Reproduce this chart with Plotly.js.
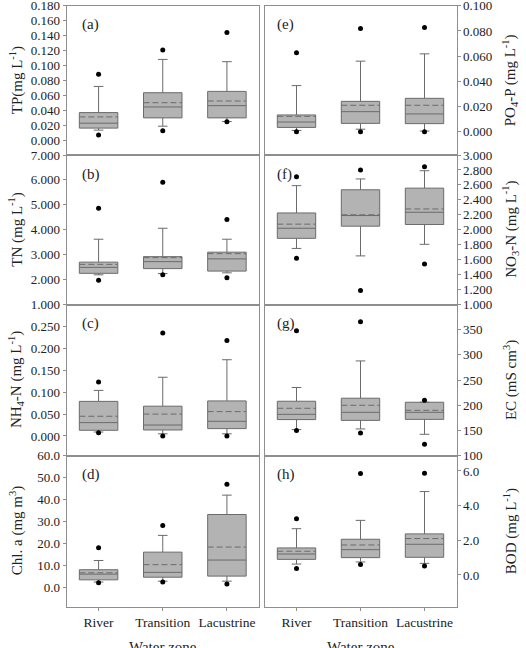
<!DOCTYPE html>
<html>
<head>
<meta charset="utf-8">
<script src="https://cdn.plot.ly/plotly-3.0.1.min.js"></script>
<style>html,body{margin:0;padding:0;background:#fff;}#chart{width:526px;height:648px;}</style>
</head>
<body>
<div id="chart"></div>
<script>
// ---------- DATA ----------
const zones = ['River', 'Transition', 'Lacustrine'];

// (a) TP
const TP_q1 = [0.016, 0.0297, 0.0297];
const TP_median = [0.0226, 0.0443, 0.0461];
const TP_q3 = [0.0368, 0.0634, 0.0652];
const TP_low = [0.0133, 0.0186, 0.0248];
const TP_high = [0.0718, 0.108, 0.105];
const TP_mean = [0.031, 0.050, 0.0523];
const TP_outHigh = [0.0882, 0.1206, 0.144];
const TP_outLow = [0.0067, 0.0124, 0.0244];
const TP_ticks = [0, 0.02, 0.04, 0.06, 0.08, 0.10, 0.12, 0.14, 0.16, 0.18];

// (b) TN
const TN_q1 = [2.25, 2.44, 2.34];
const TN_median = [2.49, 2.72, 2.83];
const TN_q3 = [2.70, 2.92, 3.10];
const TN_low = [2.19, 2.24, 2.27];
const TN_high = [3.62, 4.06, 3.62];
const TN_mean = [2.61, 2.88, 3.04];
const TN_outHigh = [4.86, 5.91, 4.41];
const TN_outLow = [1.97, 2.19, 2.07];
const TN_ticks = [1, 2, 3, 4, 5, 6, 7];

// (c) NH4-N
const NH4_q1 = [0.013, 0.0137, 0.0168];
const NH4_median = [0.0305, 0.025, 0.0335];
const NH4_q3 = [0.079, 0.068, 0.080];
const NH4_low = [0.009, 0.005, 0.005];
const NH4_high = [0.104, 0.134, 0.174];
const NH4_mean = [0.045, 0.050, 0.0556];
const NH4_outHigh = [0.123, 0.235, 0.218];
const NH4_outLow = [0.0076, 0.0, 0.0];
const NH4_ticks = [0, 0.05, 0.10, 0.15, 0.20, 0.25];

// (d) Chl. a
const CHL_q1 = [3.6, 4.8, 5.3];
const CHL_median = [6.2, 7.0, 12.6];
const CHL_q3 = [8.2, 16.2, 33.3];
const CHL_low = [2.6, 3.0, 3.0];
const CHL_high = [12.4, 23.8, 42.1];
const CHL_mean = [6.8, 10.5, 18.5];
const CHL_outHigh = [18.2, 28.3, 47.0];
const CHL_outLow = [2.3, 2.6, 1.7];
const CHL_ticks = [0, 10, 20, 30, 40, 50, 60];

// (e) PO4-P
const PO4_q1 = [0.0034, 0.0066, 0.0064];
const PO4_median = [0.0077, 0.0159, 0.0141];
const PO4_q3 = [0.0133, 0.0241, 0.0265];
const PO4_low = [0.001, 0.002, 0.0005];
const PO4_high = [0.0366, 0.056, 0.0618];
const PO4_mean = [0.0122, 0.021, 0.021];
const PO4_outHigh = [0.0626, 0.082, 0.0828];
const PO4_outLow = [0.0, 0.0, 0.0];
const PO4_ticks = [0, 0.02, 0.04, 0.06, 0.08, 0.10];

// (f) NO3-N
const NO3_q1 = [1.885, 2.048, 2.07];
const NO3_median = [2.02, 2.19, 2.234];
const NO3_q3 = [2.225, 2.535, 2.557];
const NO3_low = [1.75, 1.65, 1.805];
const NO3_high = [2.59, 2.68, 2.79];
const NO3_mean = [2.075, 2.20, 2.278];
const NO3_outHigh = [2.71, 2.80, 2.844];
const NO3_outLow = [1.62, 1.186, 1.54];
const NO3_ticks = [1.0, 1.2, 1.4, 1.6, 1.8, 2.0, 2.2, 2.4, 2.6, 2.8, 3.0];

// (g) EC
const EC_q1 = [171.6, 170, 172];
const EC_median = [182, 186, 186];
const EC_q3 = [208, 214, 206];
const EC_low = [151.7, 153, 142.4];
const EC_high = [235.3, 288, 206];
const EC_mean = [194, 200, 190];
const EC_outHigh = [348, 366, 210];
const EC_outLow = [149.7, 145, 122.5];
const EC_ticks = [100, 150, 200, 250, 300, 350];

// (h) BOD
const BOD_q1 = [0.90, 1.00, 1.02];
const BOD_median = [1.21, 1.46, 1.77];
const BOD_q3 = [1.56, 2.06, 2.37];
const BOD_low = [0.63, 0.75, 0.67];
const BOD_high = [2.67, 3.15, 4.81];
const BOD_mean = [1.37, 1.73, 2.10];
const BOD_outHigh = [3.25, 5.85, 5.87];
const BOD_outLow = [0.37, 0.60, 0.52];
const BOD_ticks = [0, 2, 4, 6];

// ---------- LAYOUT HELPERS ----------
const W = 526, H = 648;
const colPx = [[66.5, 259], [264.5, 456.5]];
const rowPx = [[5.5, 155], [155, 304.5], [304.5, 455.7], [455.7, 606.7]];
const px2x = p => p / W;
const px2y = p => 1 - p / H;

const panels = [
  {lab:'(a)', col:0, row:0, q1:TP_q1, med:TP_median, q3:TP_q3, lo:TP_low, hi:TP_high, mean:TP_mean, oh:TP_outHigh, ol:TP_outLow, ticks:TP_ticks, fmt:'.3f', range:[-0.02, 0.1802], title:'TP(mg L<sup>-1</sup>)'},
  {lab:'(b)', col:0, row:1, q1:TN_q1, med:TN_median, q3:TN_q3, lo:TN_low, hi:TN_high, mean:TN_mean, oh:TN_outHigh, ol:TN_outLow, ticks:TN_ticks, fmt:'.3f', range:[0.999, 7.001], title:'TN (mg L<sup>-1</sup>)'},
  {lab:'(c)', col:0, row:2, q1:NH4_q1, med:NH4_median, q3:NH4_q3, lo:NH4_low, hi:NH4_high, mean:NH4_mean, oh:NH4_outHigh, ol:NH4_outLow, ticks:NH4_ticks, fmt:'.3f', range:[-0.045, 0.30], title:'NH<sub>4</sub>-N (mg L<sup>-1</sup>)'},
  {lab:'(d)', col:0, row:3, q1:CHL_q1, med:CHL_median, q3:CHL_q3, lo:CHL_low, hi:CHL_high, mean:CHL_mean, oh:CHL_outHigh, ol:CHL_outLow, ticks:CHL_ticks, fmt:'.1f', range:[-8.6, 60.02], title:'Chl. a (mg m<sup>3</sup>)'},
  {lab:'(e)', col:1, row:0, q1:PO4_q1, med:PO4_median, q3:PO4_q3, lo:PO4_low, hi:PO4_high, mean:PO4_mean, oh:PO4_outHigh, ol:PO4_outLow, ticks:PO4_ticks, fmt:'.3f', range:[-0.0185, 0.1002], title:'PO<sub>4</sub>-P (mg L<sup>-1</sup>)'},
  {lab:'(f)', col:1, row:1, q1:NO3_q1, med:NO3_median, q3:NO3_q3, lo:NO3_low, hi:NO3_high, mean:NO3_mean, oh:NO3_outHigh, ol:NO3_outLow, ticks:NO3_ticks, fmt:'.3f', range:[0.9995, 3.0005], title:'NO<sub>3</sub>-N (mg L<sup>-1</sup>)'},
  {lab:'(g)', col:1, row:2, q1:EC_q1, med:EC_median, q3:EC_q3, lo:EC_low, hi:EC_high, mean:EC_mean, oh:EC_outHigh, ol:EC_outLow, ticks:EC_ticks, fmt:'d', range:[99.9, 400], title:'EC (mS cm<sup>3</sup>)'},
  {lab:'(h)', col:1, row:3, q1:BOD_q1, med:BOD_median, q3:BOD_q3, lo:BOD_low, hi:BOD_high, mean:BOD_mean, oh:BOD_outHigh, ol:BOD_outLow, ticks:BOD_ticks, fmt:'.1f', range:[-1.83, 6.88], title:'BOD (mg L<sup>-1</sup>)'}
];

const FONT = '"Liberation Serif", serif';
const frameColor = '#8e8e8e';
const boxLine = '#6b6b6b';
const boxFill = '#b3b3b3';

const data = [];
const layout = {
  width: W, height: H,
  margin: {l:0, r:0, t:0, b:0},
  paper_bgcolor: '#fff', plot_bgcolor: '#fff',
  showlegend: false,
  font: {family: FONT, size: 13, color: '#222'},
  annotations: []
};

panels.forEach((p, i) => {
  const n = i + 1;
  const xa = 'x' + (n === 1 ? '' : n);
  const ya = 'y' + (n === 1 ? '' : n);
  data.push({
    type: 'box', xaxis: xa, yaxis: ya, x: zones,
    q1: p.q1, median: p.med, q3: p.q3, lowerfence: p.lo, upperfence: p.hi, mean: p.mean,
    boxmean: true, boxpoints: false, width: 0.6, whiskerwidth: 0.25,
    fillcolor: boxFill, line: {color: boxLine, width: 1}, hoverinfo: 'skip'
  });
  data.push({
    type: 'scatter', mode: 'markers', xaxis: xa, yaxis: ya,
    x: zones.concat(zones), y: p.oh.concat(p.ol),
    marker: {color: '#000', size: 5}, hoverinfo: 'skip', cliponaxis: false
  });
  const c = colPx[p.col], r = rowPx[p.row];
  layout['xaxis' + (n === 1 ? '' : n)] = {
    domain: [px2x(c[0]), px2x(c[1])], anchor: ya, type: 'category',
    categoryorder: 'array', categoryarray: zones, range: [-0.5, 2.5],
    showline: true, mirror: true, linecolor: frameColor, linewidth: 1,
    showgrid: false, zeroline: false,
    ticks: p.row === 3 ? 'outside' : '', ticklen: 3, tickcolor: frameColor,
    showticklabels: p.row === 3, tickfont: {family: FONT, size: 13.5, color: '#222'}
  };
  layout['yaxis' + (n === 1 ? '' : n)] = {
    domain: [px2y(r[1]), px2y(r[0])], anchor: xa, range: p.range,
    side: p.col === 0 ? 'left' : 'right',
    tickmode: 'array', tickvals: p.ticks, tickformat: p.fmt,
    showline: true, mirror: true, linecolor: frameColor, linewidth: 1,
    showgrid: false, zeroline: false, ticklabeloverflow: 'allow',
    ticks: 'outside', ticklen: 3, tickcolor: frameColor,
    tickfont: {family: FONT, size: 13, color: '#222'}
  };
  // panel label
  layout.annotations.push({
    xref: 'paper', yref: 'paper', x: px2x(c[0] + (p.col === 0 ? 13 : 10)), y: px2y(r[0] + 19),
    xanchor: 'left', yanchor: 'middle', showarrow: false, text: p.lab,
    font: {family: FONT, size: 15, color: '#222'}
  });
  // axis title
  layout.annotations.push({
    xref: 'paper', yref: 'paper', x: px2x(p.col === 0 ? 16 : 510), y: px2y((r[0] + r[1]) / 2),
    xanchor: 'center', yanchor: 'middle', textangle: -90, showarrow: false, text: p.title,
    font: {family: FONT, size: 15, color: '#222'}
  });
});

// x-axis titles
[0, 1].forEach(ci => {
  layout.annotations.push({
    xref: 'paper', yref: 'paper', x: px2x((colPx[ci][0] + colPx[ci][1]) / 2), y: px2y(637),
    xanchor: 'center', yanchor: 'top', showarrow: false, text: 'Water zone',
    font: {family: FONT, size: 15, color: '#222'}
  });
});

Plotly.newPlot('chart', data, layout, {staticPlot: true, displayModeBar: false}).then(() => {
  document.querySelectorAll('path.mean').forEach(el => {
    el.style.strokeDasharray = '6px,3px';
  });
});
</script>
</body>
</html>
